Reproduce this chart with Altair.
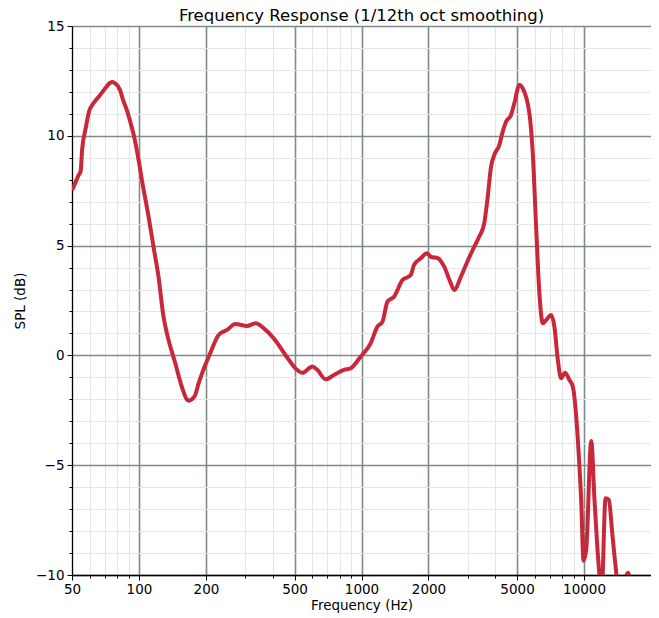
import altair as alt
import pandas as pd

freq = [50.5, 53.5, 54.7, 55.5, 57.5, 59.8, 62.4, 66.9, 71, 74.2, 76, 78.1, 82.2, 85, 88.2, 91,
        94.4, 100, 103, 110.4, 116.2, 122.4, 128.9, 133.6, 145.6, 156, 164, 168, 173, 179, 185,
        192, 209, 228, 249, 271, 306, 334, 364, 403, 455, 505, 542, 601, 633, 690, 752, 834,
        893, 991, 1099, 1179, 1242, 1308, 1400, 1528, 1665, 1722, 1848, 1966, 2050, 2211,
        2352, 2521, 2609, 2797, 2946, 3159, 3382, 3562, 3690, 3820, 3952, 4162, 4311, 4462,
        4699, 4861, 5121, 5306, 5682, 5885, 6091, 6303, 6532, 6756, 7116, 7362, 7627, 7889,
        8221, 8600, 8911, 9223, 9444, 9711, 9950, 10226, 10775, 11147, 11617, 12000, 12494,
        12942, 13354, 13818, 14300, 15000, 15750, 16500, 17500]
spl = [7.6, 8.2, 8.4, 9.35, 10.3, 11.14, 11.48, 11.86, 12.2, 12.42, 12.45, 12.39, 12.09, 11.6,
       11.17, 10.7, 10.1, 8.8, 8.0, 6.32, 4.95, 3.58, 1.76, 0.99, -0.36, -1.45, -2.0, -2.06,
       -2.0, -1.8, -1.3, -0.82, 0.10, 0.93, 1.16, 1.43, 1.34, 1.46, 1.23, 0.78, 0.02, -0.59,
       -0.79, -0.51, -0.66, -1.09, -0.89, -0.66, -0.59, -0.06, 0.55, 1.31, 1.53, 2.45, 2.67,
       3.43, 3.66, 4.12, 4.42, 4.65, 4.49, 4.42, 4.04, 3.28, 2.98, 3.58, 4.12, 4.80, 5.41,
       6.02, 7.2, 8.59, 9.13, 9.58, 10.19, 10.64, 10.95, 11.48, 12.31, 12.16, 11.02, 9.20,
       5.86, 2.83, 1.46, 1.61, 1.84, 1.31, -0.21, -1.04, -0.79, -1.12, -1.43, -2.79, -4.31,
       -6.58, -9.35, -8.86, -3.9, -6.58, -9.47, -10.8, -6.51, -6.58, -7.95, -9.47, -10.6,
       -10.4, -9.9, -10.8, -12.0]

x_ticks = [50, 60, 70, 80, 90, 100, 200, 300, 400, 500, 600, 700, 800, 900, 1000, 2000, 3000,
           4000, 5000, 6000, 7000, 8000, 9000, 10000, 20000]
x_labels = [50, 100, 200, 500, 1000, 2000, 5000, 10000]
x_major_grid = [100, 200, 500, 1000, 2000, 5000, 10000]
y_ticks = list(range(-10, 16))

df = pd.DataFrame({"freq": freq, "spl": spl})

FONT = "DejaVu Sans"
MAJOR_GRID = "#7f8a8a"
MINOR_GRID = "#e4e6e6"

lab_list = "[" + ",".join(str(v) for v in x_labels) + "]"
maj_list = "[" + ",".join(str(v) for v in x_major_grid) + "]"
x_major_test = f"indexof({lab_list}, datum.value) >= 0"
x_grid_test = f"indexof({maj_list}, datum.value) >= 0"
y_major_test = "datum.value % 5 == 0"

x_axis = alt.Axis(
    values=x_ticks,
    labelExpr=f"{x_major_test} ? format(datum.value, 'd') : ''",
    title="Frequency (Hz)",
    grid=True,
    gridColor={"condition": {"test": x_grid_test, "value": MAJOR_GRID}, "value": MINOR_GRID},
    gridWidth={"condition": {"test": x_grid_test, "value": 1.6}, "value": 1.0},
    tickSize={"condition": {"test": x_major_test, "value": 5}, "value": 3},
    tickColor="black",
    tickWidth=1,
    domainColor="black",
    domainWidth=1.3,
    labelFont=FONT,
    labelFontSize=13.5,
    labelColor="black",
    labelPadding=2,
    labelFlush=False,
    labelOverlap=False,
    titleFont=FONT,
    titleFontSize=13.5,
    titleFontWeight="normal",
    titleColor="black",
    titleBaseline="alphabetic",
    titleY=34,
)

y_axis = alt.Axis(
    values=y_ticks,
    labelExpr=f"{y_major_test} ? datum.label : ''",
    title="SPL (dB)",
    grid=True,
    gridColor={"condition": {"test": y_major_test, "value": MAJOR_GRID}, "value": MINOR_GRID},
    gridWidth={"condition": {"test": y_major_test, "value": 1.6}, "value": 1.0},
    tickSize={"condition": {"test": y_major_test, "value": 5}, "value": 3},
    tickColor="black",
    tickWidth=1,
    domainColor="black",
    domainWidth=1.3,
    labelFont=FONT,
    labelFontSize=13.5,
    labelColor="black",
    labelPadding=3,
    labelFlush=False,
    labelOverlap=False,
    titleFont=FONT,
    titleFontSize=13.5,
    titleFontWeight="normal",
    titleColor="black",
    titlePadding=8,
)

chart = alt.Chart(df).mark_line(
    color="#c8283a", strokeWidth=4, clip=True, interpolate="monotone",
    strokeCap="round", strokeJoin="round"
).encode(
    x=alt.X("freq:Q", scale=alt.Scale(type="log", domain=[50, 20000], nice=False), axis=x_axis),
    y=alt.Y("spl:Q", scale=alt.Scale(domain=[-10, 15], nice=False, zero=False), axis=y_axis),
).properties(
    width=579,
    height=549,
    title=alt.TitleParams(
        "Frequency Response (1/12th oct smoothing)",
        font=FONT, fontSize=16.5, fontWeight="normal", color="black",
        offset=0, dy=5
    ),
    padding={"left": 64, "top": 18, "right": 0, "bottom": 38},
    autosize=alt.AutoSizeParams(type="none"),
).configure_view(
    stroke="black", strokeWidth=1.3
).configure(background="white")

chart.save("out.html", embed_options={"renderer": "svg", "actions": False})
